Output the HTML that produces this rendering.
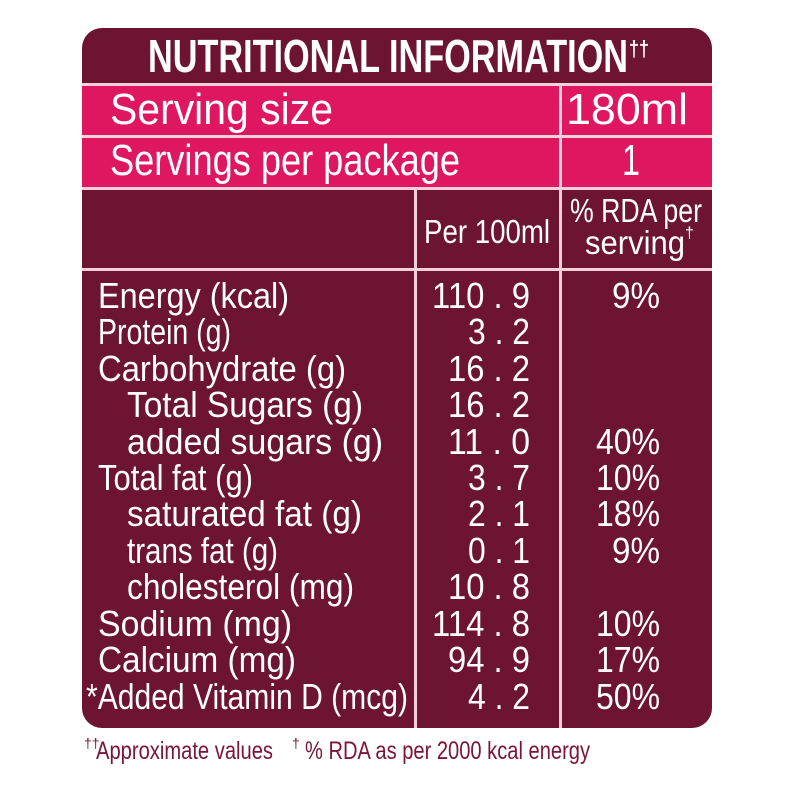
<!DOCTYPE html>
<html><head><meta charset="utf-8"><style>
html,body{margin:0;padding:0;background:#fff;}
svg{display:block}
text{font-family:"Liberation Sans Narrow","Liberation Sans",sans-serif;fill:#fff;}
</style></head><body>
<svg width="800" height="800" viewBox="0 0 800 800" xmlns="http://www.w3.org/2000/svg">
<rect x="82" y="28" width="630" height="700" rx="20" fill="#6c1431"/>
<rect x="82" y="83" width="630" height="3" fill="#f3d0da"/>
<rect x="82" y="86" width="630" height="49" fill="#df1760"/>
<rect x="82" y="135" width="630" height="3" fill="#f3d0da"/>
<rect x="82" y="138" width="630" height="49" fill="#df1760"/>
<rect x="82" y="187" width="630" height="3" fill="#f3d0da"/>
<rect x="82" y="268" width="630" height="3" fill="#f3d0da"/>
<rect x="559" y="86" width="3" height="642" fill="#f3d0da"/>
<rect x="414" y="190" width="3" height="538" fill="#f3d0da"/>

<text x="148" y="72" font-size="46" font-weight="bold" textLength="480" lengthAdjust="spacingAndGlyphs">NUTRITIONAL INFORMATION</text>
<text x="629" y="56" font-size="22" font-weight="bold" textLength="20" lengthAdjust="spacingAndGlyphs">††</text>

<text x="110" y="124" font-size="44" textLength="223" lengthAdjust="spacingAndGlyphs">Serving size</text>
<text x="566" y="124" font-size="44" textLength="122" lengthAdjust="spacingAndGlyphs">180ml</text>
<text x="110" y="175" font-size="44" textLength="350" lengthAdjust="spacingAndGlyphs">Servings per package</text>
<text x="622" y="175" font-size="44" textLength="18" lengthAdjust="spacingAndGlyphs">1</text>

<text x="424" y="243" font-size="33" textLength="126" lengthAdjust="spacingAndGlyphs">Per 100ml</text>
<text x="570" y="222" font-size="33" textLength="132" lengthAdjust="spacingAndGlyphs">% RDA per</text>
<text x="585" y="254" font-size="33" textLength="100" lengthAdjust="spacingAndGlyphs">serving</text>
<text x="685" y="238" font-size="16">†</text>

<g font-size="36">
<text x="98" y="308" textLength="191" lengthAdjust="spacingAndGlyphs">Energy (kcal)</text>
<text x="98" y="344" textLength="133" lengthAdjust="spacingAndGlyphs">Protein (g)</text>
<text x="98" y="381" textLength="248" lengthAdjust="spacingAndGlyphs">Carbohydrate (g)</text>
<text x="127" y="417" textLength="236" lengthAdjust="spacingAndGlyphs">Total Sugars (g)</text>
<text x="127" y="454" textLength="256" lengthAdjust="spacingAndGlyphs">added sugars (g)</text>
<text x="98" y="490" textLength="155" lengthAdjust="spacingAndGlyphs">Total fat (g)</text>
<text x="127" y="526" textLength="235" lengthAdjust="spacingAndGlyphs">saturated fat (g)</text>
<text x="127" y="563" textLength="151" lengthAdjust="spacingAndGlyphs">trans fat (g)</text>
<text x="127" y="599" textLength="227" lengthAdjust="spacingAndGlyphs">cholesterol (mg)</text>
<text x="98" y="636" textLength="194" lengthAdjust="spacingAndGlyphs">Sodium (mg)</text>
<text x="98" y="672" textLength="198" lengthAdjust="spacingAndGlyphs">Calcium (mg)</text>
<text x="86" y="709" textLength="322" lengthAdjust="spacingAndGlyphs">*Added Vitamin D (mcg)</text>
</g>
<g font-size="36" text-anchor="end">
<text x="530" y="308" textLength="98" lengthAdjust="spacingAndGlyphs">110 . 9</text>
<text x="530" y="344" textLength="62" lengthAdjust="spacingAndGlyphs">3 . 2</text>
<text x="530" y="381" textLength="82" lengthAdjust="spacingAndGlyphs">16 . 2</text>
<text x="530" y="417" textLength="82" lengthAdjust="spacingAndGlyphs">16 . 2</text>
<text x="530" y="454" textLength="82" lengthAdjust="spacingAndGlyphs">11 . 0</text>
<text x="530" y="490" textLength="62" lengthAdjust="spacingAndGlyphs">3 . 7</text>
<text x="530" y="526" textLength="62" lengthAdjust="spacingAndGlyphs">2 . 1</text>
<text x="530" y="563" textLength="62" lengthAdjust="spacingAndGlyphs">0 . 1</text>
<text x="530" y="599" textLength="82" lengthAdjust="spacingAndGlyphs">10 . 8</text>
<text x="530" y="636" textLength="98" lengthAdjust="spacingAndGlyphs">114 . 8</text>
<text x="530" y="672" textLength="82" lengthAdjust="spacingAndGlyphs">94 . 9</text>
<text x="530" y="709" textLength="62" lengthAdjust="spacingAndGlyphs">4 . 2</text>
<text x="660" y="308" textLength="48" lengthAdjust="spacingAndGlyphs">9%</text>
<text x="660" y="454" textLength="64" lengthAdjust="spacingAndGlyphs">40%</text>
<text x="660" y="490" textLength="64" lengthAdjust="spacingAndGlyphs">10%</text>
<text x="660" y="526" textLength="64" lengthAdjust="spacingAndGlyphs">18%</text>
<text x="660" y="563" textLength="48" lengthAdjust="spacingAndGlyphs">9%</text>
<text x="660" y="636" textLength="64" lengthAdjust="spacingAndGlyphs">10%</text>
<text x="660" y="672" textLength="64" lengthAdjust="spacingAndGlyphs">17%</text>
<text x="660" y="709" textLength="64" lengthAdjust="spacingAndGlyphs">50%</text>
</g>
<text x="84" y="748" font-size="14" style="fill:#7a1535">††</text>
<text x="96" y="759" font-size="25" style="fill:#7a1535" textLength="177" lengthAdjust="spacingAndGlyphs">Approximate values</text>
<text x="292" y="748" font-size="14" style="fill:#7a1535">†</text>
<text x="305" y="759" font-size="25" style="fill:#7a1535" textLength="285" lengthAdjust="spacingAndGlyphs">% RDA as per 2000 kcal energy</text>
</svg>
</body></html>
